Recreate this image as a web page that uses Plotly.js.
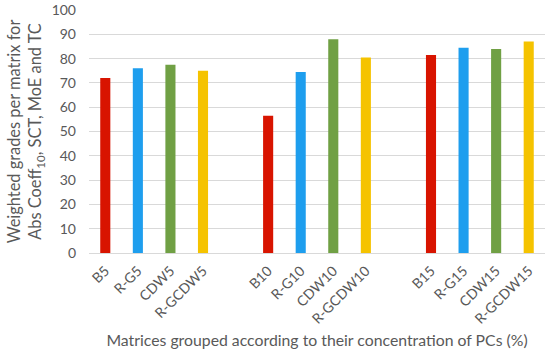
<!DOCTYPE html>
<html>
<head>
<meta charset="utf-8">
<script src="https://cdn.plot.ly/plotly-3.0.1.min.js"></script>
<style>html,body{margin:0;padding:0;background:#fff;}#chart{width:550px;height:351px;}</style>
</head>
<body>
<div id="chart"></div>
<script>
// Categories (spacers ' ' and '  ' separate the 5 %, 10 % and 15 % groups)
const categories = ['B5','R-G5','CDW5','R-GCDW5',' ','B10','R-G10','CDW10','R-GCDW10','  ','B15','R-G15','CDW15','R-GCDW15'];
const grades     = [72, 76, 77.5, 75, null, 56.5, 74.5, 88, 80.5, null, 81.5, 84.5, 84, 87];
const matrixType = ['B','R-G','CDW','R-GCDW','','B','R-G','CDW','R-GCDW','','B','R-G','CDW','R-GCDW'];
const typeColors = {'B':'#D81400','R-G':'#1E9EEE','CDW':'#70A044','R-GCDW':'#F5C300','':'#ffffff'};
const tickLabels = categories.filter(c => c.trim() !== '');

const FONT = 'Lato, "Open Sans", sans-serif';
const GREY = '#595959';

const trace = {
  type: 'bar',
  x: categories,
  y: grades,
  marker: {color: matrixType.map(t => typeColors[t])},
  hoverinfo: 'x+y'
};

const layout = {
  width: 550, height: 351,
  margin: {l: 89, r: 5, t: 10, b: 98},
  paper_bgcolor: '#ffffff',
  plot_bgcolor: '#ffffff',
  showlegend: false,
  bargap: 0.69,
  font: {family: FONT, color: GREY},
  xaxis: {
    type: 'category',
    categoryorder: 'array',
    categoryarray: categories,
    tickmode: 'array',
    tickvals: tickLabels,
    ticktext: tickLabels,
    tickangle: -45,
    tickfont: {family: FONT, size: 14, color: GREY},
    showgrid: false,
    showline: false,
    zeroline: false,
    ticks: '',
    ticklabelstandoff: 6,
    automargin: false,
    title: {text: 'Matrices grouped according to their concentration of PCs (%)',
            font: {family: FONT, size: 15.8, color: GREY}, standoff: 8}
  },
  yaxis: {
    range: [0, 100],
    dtick: 10,
    tickfont: {family: FONT, size: 14, color: GREY},
    showgrid: true,
    gridcolor: '#D9D9D9',
    gridwidth: 1,
    zeroline: true,
    zerolinecolor: '#D9D9D9',
    showline: false,
    ticks: '',
    ticklabelstandoff: 12,
    automargin: false,
    title: {text: 'Weighted grades per matrix for<br>Abs Coeff<sub>10</sub>, SCT, MoE and TC',
            font: {family: FONT, size: 16.4, color: GREY}, standoff: 5}
  }
};

Plotly.newPlot('chart', [trace], layout, {displayModeBar: false, staticPlot: true});
</script>
</body>
</html>
